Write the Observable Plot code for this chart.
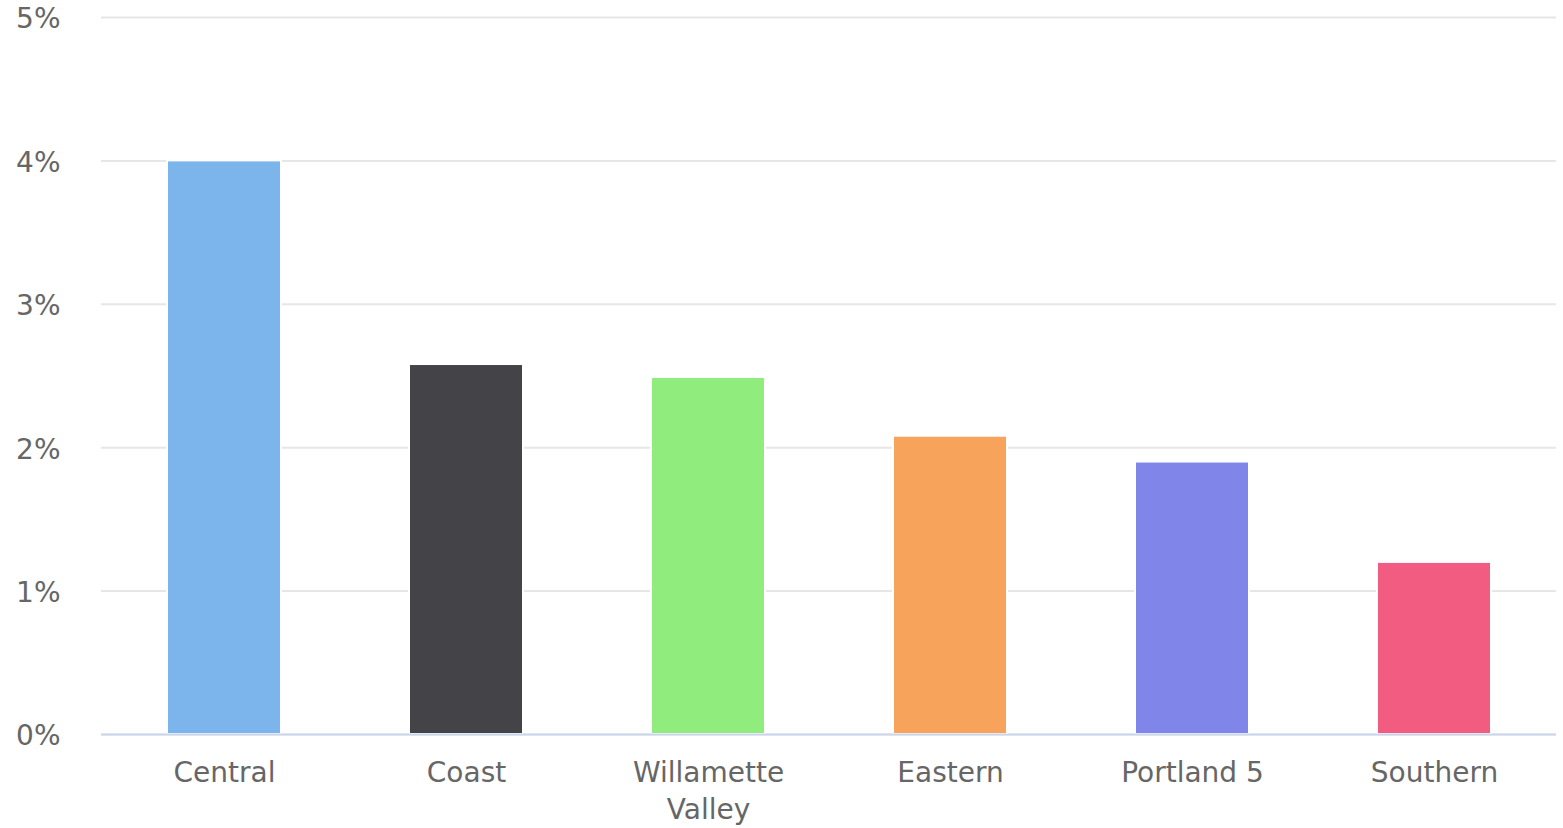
<!DOCTYPE html>
<html><head><meta charset="utf-8">
<script src="https://cdn.jsdelivr.net/npm/d3@7"></script>
<script src="https://cdn.jsdelivr.net/npm/@observablehq/plot@0.6"></script>
<style>body{margin:0;background:#fff;font-family:"DejaVu Sans",sans-serif}</style>
</head><body><div id="chart"></div>
<script>
const regions = ["Central","Coast","Willamette\nValley","Eastern","Portland 5","Southern"];
const values = [4.0, 2.58, 2.49, 2.08, 1.9, 1.2];
const colors = ["#7cb5ec","#434348","#90ed7d","#f7a35c","#8085e9","#f15c80"];
const yTicks = [0,1,2,3,4,5];
const data = regions.map((r,i)=>({region:r, value:values[i], color:colors[i]}));
const chart = Plot.plot({
  width:1563, height:828,
  marginLeft:101, marginRight:7, marginTop:17, marginBottom:94,
  style:{fontSize:"28px", fontFamily:"DejaVu Sans, sans-serif", color:"#666"},
  x:{domain:regions, paddingInner:0.53, paddingOuter:0.265, label:null},
  y:{domain:[0,5], label:null},
  marks:[
    Plot.gridY(yTicks,{stroke:"#e6e6e6", strokeOpacity:1, strokeWidth:2}),
    Plot.axisY(yTicks,{tickSize:0, tickPadding:41, dy:2, tickFormat:d=>d+"%", label:null}),
    Plot.barY(data,{x:"region", y:"value", fill:"color", stroke:"white", strokeWidth:2}),
    Plot.ruleY([0],{stroke:"#ccd6eb", strokeWidth:2}),
    Plot.axisX({tickSize:0, tickPadding:22, label:null, lineHeight:1.3})
  ]
});
document.getElementById("chart").append(chart);
</script></body></html>
